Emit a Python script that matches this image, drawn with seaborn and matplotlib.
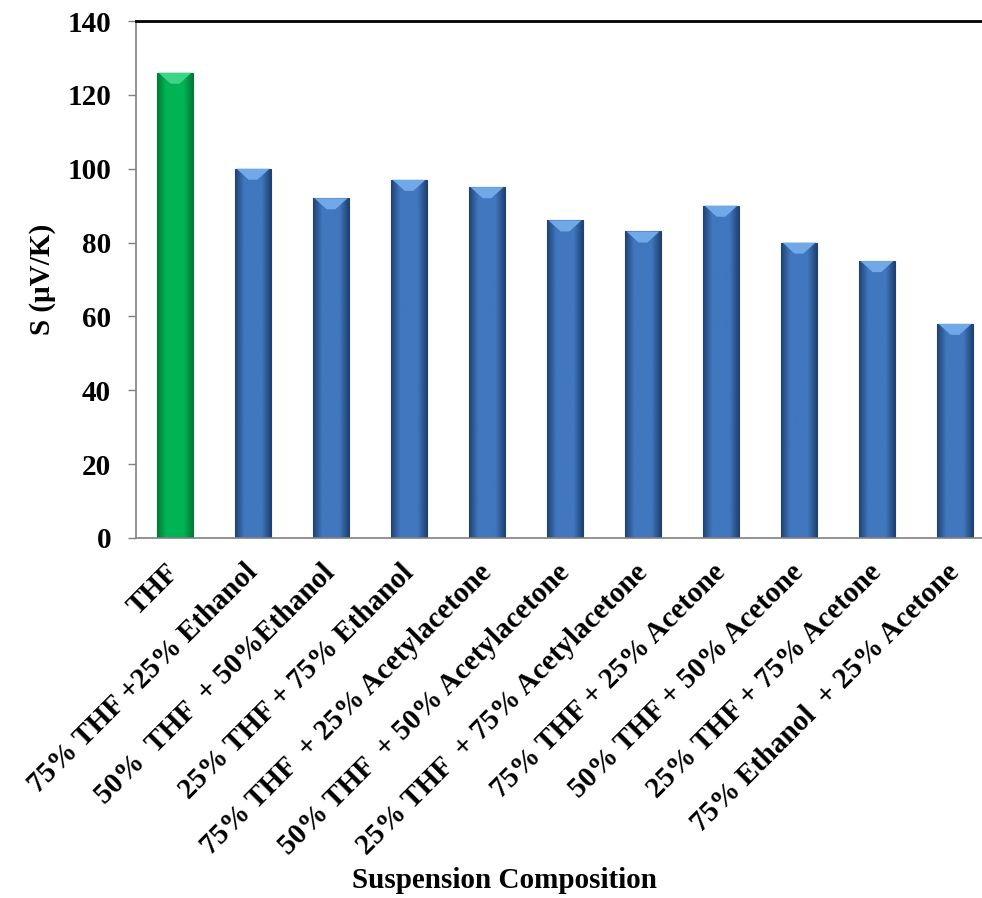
import numpy as np
import pandas as pd
from matplotlib import pyplot as plt
from matplotlib.colors import LinearSegmentedColormap
import seaborn as sns

compositions = ["THF", "75% THF +25% Ethanol", "50%  THF  + 50%Ethanol",
                "25% THF + 75% Ethanol", "75% THF  + 25% Acetylacetone",
                "50% THF  + 50% Acetylacetone", "25% THF  + 75% Acetylacetone",
                "75% THF + 25% Acetone", "50% THF + 50% Acetone",
                "25% THF + 75% Acetone", "75% Ethanol  + 25% Acetone"]
seebeck = [126, 100, 92, 97, 95, 86, 83, 90, 80, 75, 58]
bar_colors = ["#00B050"] + ["#3F75BA"] * 10

data = pd.DataFrame({"comp": compositions, "S": seebeck})

sns.set_style("white")
plt.rcParams["font.family"] = ["Liberation Serif", "DejaVu Serif"]
plt.rcParams["font.weight"] = "bold"
plt.rcParams["text.color"] = "black"
plt.rcParams["xtick.color"] = "black"
plt.rcParams["ytick.color"] = "black"
plt.rcParams["axes.labelcolor"] = "black"

fig = plt.figure(figsize=(9.82, 8.98), dpi=100)
ax = fig.add_axes([136 / 982, 1 - 538 / 898, 858 / 982, 517 / 898])

sns.barplot(data=data, x="comp", y="S", hue="comp", palette=bar_colors,
            legend=False, width=0.46, ax=ax, saturation=1)

# flat face with darker rims, plus a light bevel on top
shades = {
    "#00B050": (["#007A35", "#00B455", "#00B455", "#00B455", "#007A35"], "#3DD487"),
    "#3F75BA": (["#1F4273", "#4077BE", "#4077BE", "#4077BE", "#1F4273"], "#70A8E8"),
}
for patch, c in zip(ax.patches, bar_colors):
    x0, y0 = patch.get_x(), patch.get_y()
    w, h = patch.get_width(), patch.get_height()
    body, top = shades[c]
    cmap = LinearSegmentedColormap.from_list("b", body)
    grad = np.linspace(0, 1, 64).reshape(1, -1)
    im = ax.imshow(grad, cmap=cmap, extent=(x0, x0 + w, y0, y0 + h),
                   aspect="auto", origin="lower", zorder=2)
    im.set_clip_path(patch)
    patch.set_edgecolor(body[0])
    patch.set_linewidth(0.8)
    bev = 3.0
    ax.fill([x0 + w * 0.04, x0 + w * 0.96, x0 + w * 0.62, x0 + w * 0.38],
            [y0 + h, y0 + h, y0 + h - bev, y0 + h - bev],
            color=top, zorder=3, lw=0)

ax.set_xlim(-0.5, 10.5)
ax.set_ylim(0, 140)
ax.set_yticks(range(0, 141, 20))
ax.tick_params(axis="y", labelsize=21, length=6, width=1, color="#808080",
               labelcolor="black", direction="out", left=True, pad=12)
ax.tick_params(axis="x", labelsize=21, length=0, pad=22, labelcolor="black")
plt.setp(ax.get_xticklabels(), rotation=45, ha="right", va="center",
         rotation_mode="anchor")
for lab in ax.get_yticklabels() + ax.get_xticklabels():
    lab.set_fontweight("bold")

for side in ["left", "bottom"]:
    ax.spines[side].set_color("#808080")
    ax.spines[side].set_linewidth(1.2)
ax.spines["top"].set_color("black")
ax.spines["top"].set_linewidth(2)
ax.spines["right"].set_visible(False)

ax.set_xlabel("")
ax.set_ylabel("S (μV/K)", fontsize=21, fontweight="bold", labelpad=8)
fig.text(505 / 982, 1 - 880 / 898, "Suspension Composition", ha="center",
         va="center", fontsize=21, fontweight="bold")

plt.savefig("out.png", dpi=100)
